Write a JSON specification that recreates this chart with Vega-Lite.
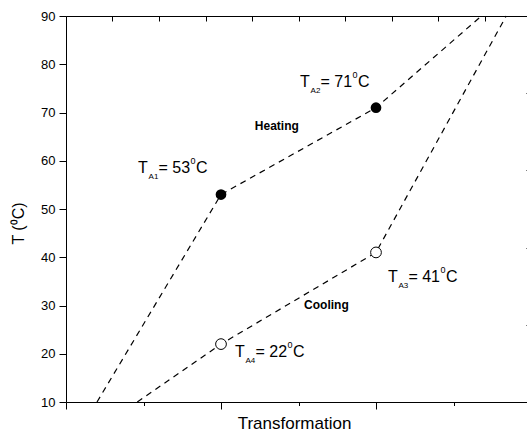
{
  "$schema": "https://vega.github.io/schema/vega-lite/v6.json",
  "width": 465,
  "height": 386,
  "autosize": {"type": "none"},
  "padding": {"left": 66, "top": 16, "right": -4, "bottom": 30},
  "background": "white",
  "config": {
    "view": {"stroke": null},
    "axis": {"grid": false, "domainColor": "black", "tickColor": "black", "domainWidth": 1, "tickWidth": 1, "labelColor": "black", "titleColor": "black", "labelFont": "Liberation Sans", "titleFont": "Liberation Sans", "titleFontWeight": "normal"},
    "text": {"font": "Liberation Sans", "color": "black"}
  },
  "datasets": {
    "lines": [
      {"series": "heating", "order": 1, "x": 0.2, "y": 10},
      {"series": "heating", "order": 2, "x": 1, "y": 53},
      {"series": "heating", "order": 3, "x": 2, "y": 71},
      {"series": "heating", "order": 4, "x": 2.68, "y": 90},
      {"series": "cooling", "order": 1, "x": 0.46, "y": 10},
      {"series": "cooling", "order": 2, "x": 1, "y": 22},
      {"series": "cooling", "order": 3, "x": 2, "y": 41},
      {"series": "cooling", "order": 4, "x": 2.84, "y": 90}
    ],
    "heatPts": [
      {"x": 1, "y": 53},
      {"x": 2, "y": 71}
    ],
    "coolPts": [
      {"x": 1, "y": 22},
      {"x": 2, "y": 41}
    ],
    "labels": [
      {"x": 0.465, "y": 57.46, "sub": "A1", "val": "= 53"},
      {"x": 1.51, "y": 75.2, "sub": "A2", "val": "= 71"},
      {"x": 2.077, "y": 34.93, "sub": "A3", "val": "= 41"},
      {"x": 1.09, "y": 19.39, "sub": "A4", "val": "= 22"}
    ],
    "phase": [
      {"x": 1.36, "y": 67.2, "name": "Heating"},
      {"x": 1.68, "y": 30.1, "name": "Cooling"}
    ]
  },
  "layer": [
    {
      "layer": [
        {
          "data": {"name": "lines"},
          "mark": {"type": "line", "strokeDash": [6, 5], "color": "black", "strokeWidth": 1.2},
          "encoding": {
            "x": {
              "field": "x", "type": "quantitative",
              "scale": {"domain": [0, 3], "nice": false, "zero": false},
              "axis": {
                "orient": "bottom", "values": [0, 0.5, 1, 1.5, 2, 2.5, 3], "labels": false,
                "title": "Transformation", "titleFontSize": 17, "titleX": 228, "titleY": 26, "titleBaseline": "alphabetic", "titleAlign": "center",
                "tickSize": {"condition": {"test": "datum.value % 1 === 0", "value": 7}, "value": 3.5}
              }
            },
            "y": {
              "field": "y", "type": "quantitative",
              "scale": {"domain": [10, 90], "nice": false, "zero": false},
              "axis": {
                "orient": "left", "values": [10, 15, 20, 25, 30, 35, 40, 45, 50, 55, 60, 65, 70, 75, 80, 85, 90],
                "labelExpr": "datum.value % 10 === 0 ? datum.label : ''", "labelFontSize": 13, "labelPadding": 4,
                "title": "T (⁰C)", "titleFontSize": 16, "titleX": -43, "titleY": 207, "titleBaseline": "alphabetic", "titleAlign": "center",
                "tickSize": {"condition": {"test": "datum.value % 10 === 0", "value": 7}, "value": 3.5}
              }
            },
            "detail": {"field": "series"},
            "order": {"field": "order"}
          }
        },
        {
          "data": {"name": "heatPts"},
          "mark": {"type": "point", "shape": "circle", "filled": true, "color": "black", "size": 115, "opacity": 1},
          "encoding": {"x": {"field": "x", "type": "quantitative"}, "y": {"field": "y", "type": "quantitative"}}
        },
        {
          "data": {"name": "coolPts"},
          "mark": {"type": "point", "shape": "circle", "filled": true, "fill": "white", "stroke": "black", "strokeWidth": 1, "size": 115, "opacity": 1},
          "encoding": {"x": {"field": "x", "type": "quantitative"}, "y": {"field": "y", "type": "quantitative"}}
        },
        {
          "data": {"name": "labels"},
          "mark": {"type": "text", "text": "T", "align": "left", "baseline": "alphabetic", "fontSize": 16},
          "encoding": {"x": {"field": "x", "type": "quantitative"}, "y": {"field": "y", "type": "quantitative"}}
        },
        {
          "data": {"name": "labels"},
          "mark": {"type": "text", "align": "left", "baseline": "alphabetic", "fontSize": 8, "dx": 10.5, "dy": 6},
          "encoding": {"x": {"field": "x", "type": "quantitative"}, "y": {"field": "y", "type": "quantitative"}, "text": {"field": "sub"}}
        },
        {
          "data": {"name": "labels"},
          "mark": {"type": "text", "align": "left", "baseline": "alphabetic", "fontSize": 16, "dx": 20.5},
          "encoding": {"x": {"field": "x", "type": "quantitative"}, "y": {"field": "y", "type": "quantitative"}, "text": {"field": "val"}}
        },
        {
          "data": {"name": "labels"},
          "mark": {"type": "text", "text": "0", "align": "left", "baseline": "alphabetic", "fontSize": 9, "dx": 52.5, "dy": -9},
          "encoding": {"x": {"field": "x", "type": "quantitative"}, "y": {"field": "y", "type": "quantitative"}}
        },
        {
          "data": {"name": "labels"},
          "mark": {"type": "text", "text": "C", "align": "left", "baseline": "alphabetic", "fontSize": 16, "dx": 58},
          "encoding": {"x": {"field": "x", "type": "quantitative"}, "y": {"field": "y", "type": "quantitative"}}
        },
        {
          "data": {"name": "phase"},
          "mark": {"type": "text", "align": "center", "baseline": "middle", "fontSize": 12, "fontWeight": "bold"},
          "encoding": {"x": {"field": "x", "type": "quantitative"}, "y": {"field": "y", "type": "quantitative"}, "text": {"field": "name"}}
        }
      ]
    },
    {
      "data": {"name": "lines"},
      "mark": {"type": "point", "opacity": 0},
      "encoding": {
        "x": {
          "field": "x", "type": "quantitative",
          "scale": {"domain": [0, 3], "nice": false, "zero": false},
          "axis": {"orient": "top", "values": [0, 0.3, 0.6, 0.9, 1.2, 1.5, 1.8, 2.1, 2.4, 2.7, 3], "labels": false, "title": null, "tickSize": -5}
        },
        "y": {
          "field": "y", "type": "quantitative",
          "scale": {"domain": [10, 90], "nice": false, "zero": false},
          "axis": {"orient": "right", "values": [10, 26, 42, 58, 74, 90], "labels": false, "title": null, "tickSize": -5}
        }
      }
    }
  ],
  "resolve": {"scale": {"x": "independent", "y": "independent"}}
}
